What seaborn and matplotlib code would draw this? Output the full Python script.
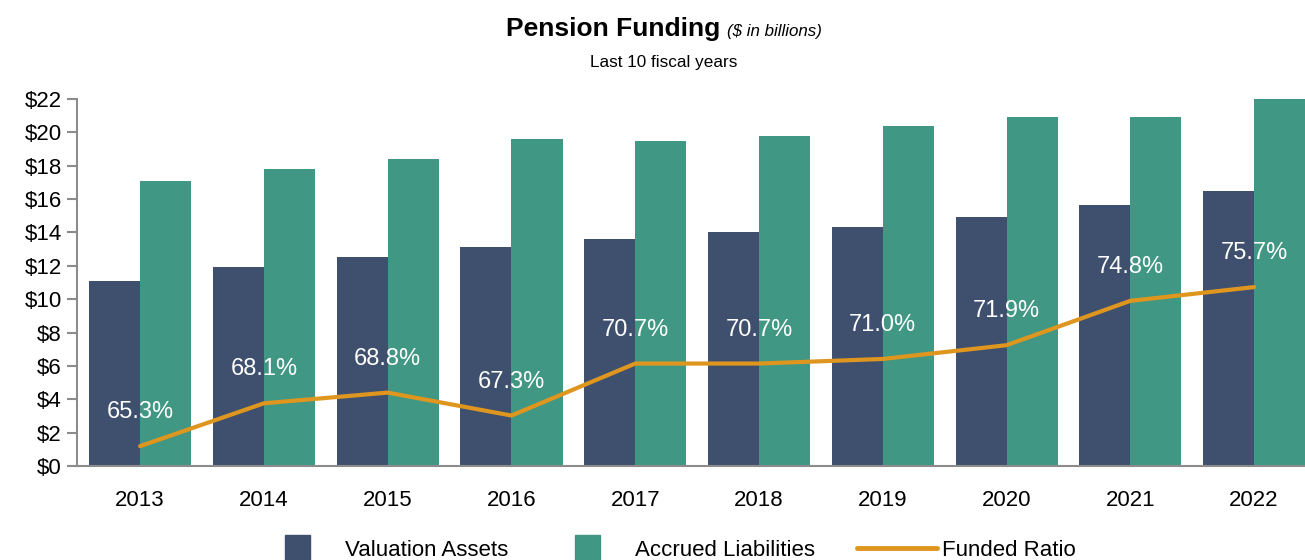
import pandas as pd
import seaborn as sns
import matplotlib.pyplot as plt
from matplotlib.patches import Rectangle
from matplotlib.lines import Line2D
from matplotlib.legend_handler import HandlerPatch

# data
years = ['2013', '2014', '2015', '2016', '2017', '2018', '2019', '2020', '2021', '2022']
valuation_assets = [11.1, 11.9, 12.5, 13.1, 13.6, 14.0, 14.3, 14.95, 15.65, 16.5]
accrued_liabilities = [17.1, 17.8, 18.4, 19.6, 19.5, 19.8, 20.4, 20.9, 20.9, 22.0]
funded_ratio = [65.3, 68.1, 68.8, 67.3, 70.7, 70.7, 71.0, 71.9, 74.8, 75.7]

blue = '#3F506E'
green = '#409783'
orange = '#DE961E'
grey = '#8C8C8C'

sns.set_style('white')
plt.rcParams['font.family'] = ['Liberation Sans', 'DejaVu Sans']
plt.rcParams['text.color'] = 'black'

df = pd.DataFrame({
    'year': years * 2,
    'value': valuation_assets + accrued_liabilities,
    'serie': ['Valuation Assets'] * len(years) + ['Accrued Liabilities'] * len(years),
})
df_ratio = pd.DataFrame({'year': years, 'ratio': funded_ratio})

fig = plt.figure(figsize=(13.05, 5.6), dpi=100)
ax = fig.add_axes([77 / 1305, 1 - 466 / 560, (1316 - 77) / 1305, (466 - 99) / 560])

sns.barplot(data=df, x='year', y='value', hue='serie', palette=[blue, green],
            width=0.825, gap=0, saturation=1, linewidth=0, ax=ax, legend=False)
ax.set_xlim(-0.51, 9.5)
ax.set_ylim(0, 22)
ax.set_yticks(range(0, 23, 2))
ax.set_yticklabels([f'${v}' for v in range(0, 23, 2)])
ax.set_xlabel('')
ax.set_ylabel('')
ax.tick_params(axis='both', labelsize=16, colors=grey, labelcolor='black',
               length=7, width=1.5, direction='out')
ax.tick_params(axis='y', pad=4)
ax.tick_params(axis='x', pad=10)
for s in ['top', 'right']:
    ax.spines[s].set_visible(False)
for s in ['left', 'bottom']:
    ax.spines[s].set_color(grey)
    ax.spines[s].set_linewidth(1.5)

# funded ratio on hidden secondary axis
ax2 = ax.twinx()
sns.lineplot(data=df_ratio, x='year', y='ratio', color=orange, linewidth=3, ax=ax2)
ax2.set_ylim(64, 88)
ax2.set_xlim(-0.51, 9.5)
ax2.set_yticks([])
ax2.set_ylabel('')
for s in ax2.spines.values():
    s.set_visible(False)
for i, v in enumerate(funded_ratio):
    ax2.annotate(f'{v:.1f}%', (i, v), xytext=(0, 24.5), textcoords='offset points',
                 ha='center', va='center', color='white', fontsize=17)

# titles
fig.text(720 / 1305, 1 - 36 / 560, 'Pension Funding', ha='right', va='baseline',
         fontsize=19, fontweight='bold')
fig.text(727 / 1305, 1 - 36 / 560, '($ in billions)', ha='left', va='baseline',
         fontsize=12.2, fontstyle='italic')
fig.text(664 / 1305, 1 - 67 / 560, 'Last 10 fiscal years', ha='center', va='baseline',
         fontsize=12.3)


def square(legend, orig_handle, xdescent, ydescent, width, height, fontsize):
    side = 18
    return Rectangle((-xdescent + width - side - 21.6, -ydescent + height / 2 - side / 2),
                     side, side)


handles = [Rectangle((0, 0), 1, 1, color=blue), Rectangle((0, 0), 1, 1, color=green),
           Line2D([0], [0], color=orange, linewidth=3.5)]
labels = ['Valuation Assets', 'Accrued Liabilities', 'Funded Ratio']
fig.legend(handles, labels, loc='center', bbox_to_anchor=(668 / 1305, 1 - 550 / 560),
           ncol=3, frameon=False, fontsize=16, handlelength=3.6, handletextpad=0.225,
           columnspacing=1.9, borderaxespad=0,
           handler_map={Rectangle: HandlerPatch(patch_func=square)})

fig.savefig('out.png', dpi=100)
